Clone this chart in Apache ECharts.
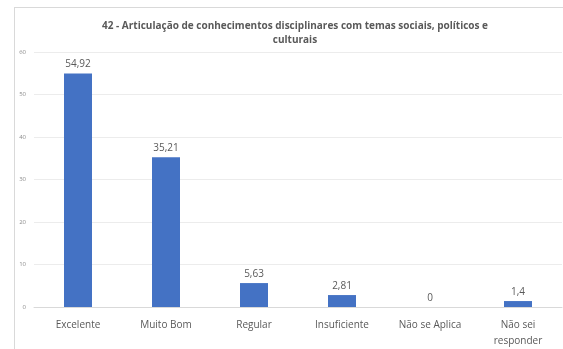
<!DOCTYPE html>
<html>
<head>
<meta charset="utf-8">
<script src="https://cdn.jsdelivr.net/npm/echarts@6/dist/echarts.min.js"></script>
<style>
  html, body { margin: 0; padding: 0; background: #fff; }
  #frame {
    position: absolute; left: 14px; top: 7px;
    width: 560px; height: 350px;
    border: 1px solid #d9d9d9;
  }
  #chart { position: absolute; left: 0; top: 0; width: 563px; height: 349px; }
</style>
</head>
<body>
<div id="frame"></div>
<div id="chart"></div>
<script>
// dados do gráfico
const categorias = ['Excelente', 'Muito Bom', 'Regular', 'Insuficiente', 'Não se Aplica', 'Não sei\nresponder']
const percentuais = [54.92, 35.21, 5.63, 2.81, 0, 1.4]
const titulo = '42 - Articulação de conhecimentos disciplinares com temas sociais, políticos e\nculturais'

const chart = echarts.init(document.getElementById('chart'))

const option = {
  animation: false,
  title: {
    text: titulo,
    left: 290,
    top: 14,
    textAlign: 'center',
    textStyle: {
      fontFamily: 'Open Sans',
      fontSize: 10,
      fontWeight: 'bold',
      color: '#595959',
      lineHeight: 14
    }
  },
  grid: {
    left: 34,
    right: 1,
    top: 52,
    bottom: 37
  },
  xAxis: {
    type: 'category',
    data: categorias,
    axisTick: { show: false },
    axisLine: { lineStyle: { color: '#d9d9d9' } },
    axisLabel: {
      interval: 0,
      color: '#595959',
      fontFamily: 'Open Sans',
      fontSize: 10,
      lineHeight: 16,
      margin: 10
    }
  },
  yAxis: {
    type: 'value',
    min: 0,
    max: 60,
    interval: 10,
    axisLine: { show: false },
    axisTick: { show: false },
    axisLabel: {
      color: '#8c8c8c',
      fontFamily: 'Open Sans',
      fontSize: 6,
      margin: 8
    },
    splitLine: { lineStyle: { color: '#ececec' } }
  },
  series: [
    {
      type: 'bar',
      data: percentuais,
      barWidth: 28,
      itemStyle: { color: '#4472c4' },
      label: {
        show: true,
        position: 'top',
        distance: 4,
        color: '#595959',
        fontFamily: 'Open Sans',
        fontSize: 10,
        formatter: p => String(p.value).replace('.', ',')
      }
    }
  ]
}

chart.setOption(option)
</script>
</body>
</html>
